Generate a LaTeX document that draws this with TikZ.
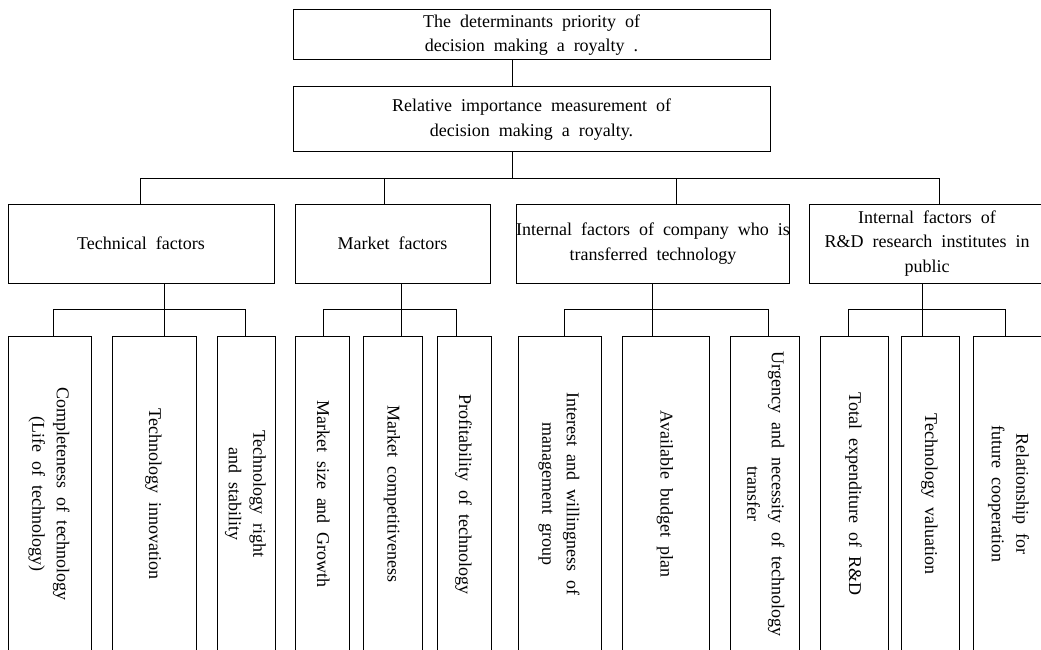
\documentclass[tikz,border=0pt]{standalone}
\usepackage{fontspec}
\setmainfont{Liberation Serif}[WordSpace=2]
\usepackage{graphicx}
\newcommand{\sidetext}[1]{\rotatebox{-90}{\begin{tabular}{@{}c@{}}#1\end{tabular}}}
\tikzset{every picture/.style={line width=0.75pt}}
\tikzset{
  box/.style={draw, rectangle, inner sep=0pt, align=center, font=\fontsize{13.5}{18.4}\selectfont},
  topbox/.style={box, minimum width=357.75pt},
  factorbox/.style={box, minimum height=59.25pt},
  itembox/.style={box, minimum height=237pt}
}
\begin{document}
\begin{tikzpicture}[x=0.75pt,y=0.75pt,yscale=-1,xscale=1]
            \useasboundingbox (0,0) rectangle (1041,649);
            \clip (0,0) rectangle (1041,649);
            % Goal and criterion
            \node [topbox, minimum height=37.5pt] (goal) at (531.5,35) {The determinants priority of\\decision making a royalty .};
            \node [topbox, minimum height=48.75pt] (rel) at (531.5,119.5) {Relative importance measurement of\\decision making a royalty.};
            % Factor boxes
            \node [factorbox, minimum width=199.5pt] (tech) at (141,243.5) {Technical factors};
            \node [factorbox, minimum width=146.25pt] (market) at (392.5,243.5) {Market factors};
            \node [factorbox, minimum width=202.5pt] (company) at (653,243.5) {Internal factors of company who is\\transferred technology};
            \node [factorbox, minimum width=177pt] (rnd) at (927,243.5) {Internal factors of\\R\&D research institutes in\\public};
            % Item boxes
            \node [itembox, minimum width=62.25pt] (t1) at (49.5,494) {\sidetext{Completeness of technology\\(Life of technology)}};
            \node [itembox, minimum width=63pt] (t2) at (154,494) {\sidetext{Technology innovation}};
            \node [itembox, minimum width=43.5pt] (t3) at (246,494) {\sidetext{Technology right\\and stability}};
            \node [itembox, minimum width=40.5pt] (m1) at (322,494) {\sidetext{Market size and Growth}};
            \node [itembox, minimum width=44.25pt] (m2) at (392.5,494) {\sidetext{Market competitiveness}};
            \node [itembox, minimum width=40.5pt] (m3) at (464,494) {\sidetext{Profitability of technology}};
            \node [itembox, minimum width=62.25pt] (c1) at (559.5,494) {\sidetext{Interest and willingness of\\management group}};
            \node [itembox, minimum width=65.25pt] (c2) at (665.5,494) {\sidetext{Available budget plan}};
            \node [itembox, minimum width=51.75pt] (c3) at (764.5,494) {\sidetext{Urgency and necessity of technology\\transfer}};
            \node [itembox, minimum width=51pt] (r1) at (854,494) {\sidetext{Total expenditure of R\&D}};
            \node [itembox, minimum width=43.5pt] (r2) at (930,494) {\sidetext{Technology valuation}};
            \node [itembox, minimum width=54pt] (r3) at (1009,494) {\sidetext{Relationship for\\future cooperation}};
            % Junction points
            \coordinate (trunk) at (512,178);
            \coordinate (busT) at (140,178);
            \coordinate (busM) at (384,178);
            \coordinate (busC) at (676,178);
            \coordinate (busR) at (939,178);
            \coordinate (tL) at (53,309);   \coordinate (tC) at (164,309);  \coordinate (tR) at (245,309);
            \coordinate (mL) at (323,309);  \coordinate (mC) at (401,309);  \coordinate (mR) at (456,309);
            \coordinate (cL) at (564,309);  \coordinate (cC) at (652,309);  \coordinate (cR) at (768,309);
            \coordinate (rL) at (848,309);  \coordinate (rC) at (922,309);  \coordinate (rR) at (1005,309);
            %Straight Lines
            \draw (goal.south -| trunk) -- (rel.north -| trunk);
            \draw (rel.south -| trunk) -- (trunk);
            \draw (busT) -- (busR);
            \draw (busT) -- (tech.north -| busT);
            \draw (busM) -- (market.north -| busM);
            \draw (busC) -- (company.north -| busC);
            \draw (busR) -- (rnd.north -| busR);
            % Technical items
            \draw (tech.south -| tC) -- (tC);
            \draw (tL) -- (tR);
            \draw (tL) -- (t1.north -| tL);
            \draw (tC) -- (t2.north -| tC);
            \draw (tR) -- (t3.north -| tR);
            % Market items
            \draw (market.south -| mC) -- (mC);
            \draw (mL) -- (mR);
            \draw (mL) -- (m1.north -| mL);
            \draw (mC) -- (m2.north -| mC);
            \draw (mR) -- (m3.north -| mR);
            % Company items
            \draw (company.south -| cC) -- (cC);
            \draw (cL) -- (cR);
            \draw (cL) -- (c1.north -| cL);
            \draw (cC) -- (c2.north -| cC);
            \draw (cR) -- (c3.north -| cR);
            % R&D items
            \draw (rnd.south -| rC) -- (rC);
            \draw (rL) -- (rR);
            \draw (rL) -- (r1.north -| rL);
            \draw (rC) -- (r2.north -| rC);
            \draw (rR) -- (r3.north -| rR);
\end{tikzpicture}
\end{document}
